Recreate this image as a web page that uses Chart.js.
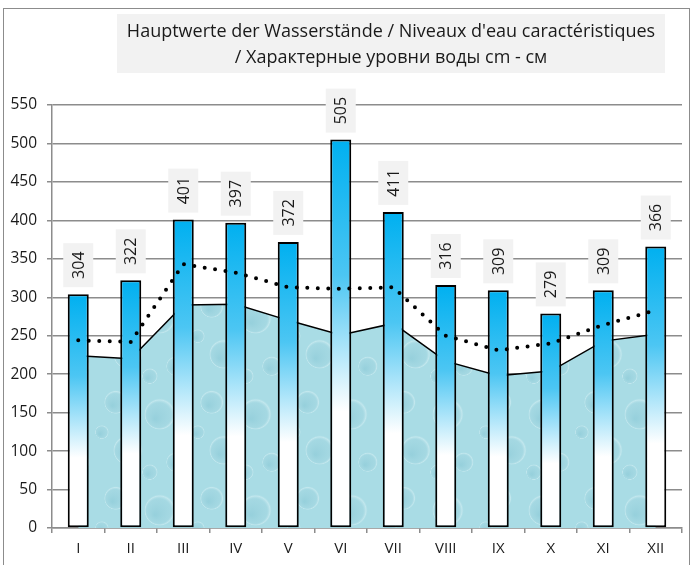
<!DOCTYPE html>
<html>
<head>
<meta charset="utf-8">
<script src="https://cdn.jsdelivr.net/npm/chart.js@4.4.1/dist/chart.umd.min.js"></script>
<style>
  html, body { margin: 0; padding: 0; background: #fff; }
  #wrap { width: 693px; height: 565px; position: relative; }
</style>
</head>
<body>
<div id="wrap"><canvas id="grafico" width="693" height="565"></canvas></div>
<script>
// meses
var meses = ["I", "II", "III", "IV", "V", "VI", "VII", "VIII", "IX", "X", "XI", "XII"];
// maximos (barras)
var maximos = [304, 322, 401, 397, 372, 505, 411, 316, 309, 279, 309, 366];
// medios (linea de puntos)
var medios = [244, 242, 343, 332, 313, 311, 313, 250, 231, 240, 264, 283];
// minimos (area)
var minimos = [224, 220, 290, 291, 270, 251, 266, 217, 198, 204, 243, 252];
var tituloLineas = ["Hauptwerte der Wasserstände / Niveaux d'eau caractéristiques",
                    "/ Характерные уровни воды cm - см"];

var fuente = "'Open Sans', 'DejaVu Sans', sans-serif";

// textura de agua para el area (sin costuras)
function texturaAgua() {
    var n = 96;
    var c = document.createElement("canvas");
    c.width = n; c.height = n;
    var g = c.getContext("2d");
    g.fillStyle = "#a9dce5";
    g.fillRect(0, 0, n, n);
    var gotas = [[20, 18, 12], [64, 30, 16], [32, 66, 15], [80, 78, 10], [6, 48, 7], [54, 88, 8]];
    gotas.forEach(function (d) {
        [-n, 0, n].forEach(function (dx) {
            [-n, 0, n].forEach(function (dy) {
                var x = d[0] + dx, y = d[1] + dy, r = d[2];
                var rg = g.createRadialGradient(x - r * 0.3, y + r * 0.3, 1, x, y, r);
                rg.addColorStop(0, "rgba(130,195,210,0.45)");
                rg.addColorStop(0.75, "rgba(150,205,218,0.25)");
                rg.addColorStop(0.9, "rgba(225,245,248,0.45)");
                rg.addColorStop(1, "rgba(169,220,229,0)");
                g.fillStyle = rg;
                g.beginPath();
                g.ellipse(x, y, r, r * 1.15, 0, 0, Math.PI * 2);
                g.fill();
            });
        });
    });
    return document.createElement("canvas").getContext("2d").createPattern(c, "repeat");
}

function degradadoBarra(ctx) {
    var chart = ctx.chart;
    if (!chart.chartArea || ctx.parsed === undefined) return "#00b0f0";
    var y = chart.scales.y;
    var arriba = y.getPixelForValue(ctx.parsed.y);
    var abajo = y.getPixelForValue(0);
    var grad = chart.ctx.createLinearGradient(0, arriba, 0, abajo);
    grad.addColorStop(0, "#00b0f0");
    grad.addColorStop(0.35, "#4cc6f3");
    grad.addColorStop(0.7, "#ffffff");
    grad.addColorStop(1, "#ffffff");
    return grad;
}

var marcoYTitulo = {
    id: "marcoYTitulo",
    beforeDraw: function (chart) {
        var c = chart.ctx;
        c.save();
        c.fillStyle = "#ffffff";
        c.fillRect(0, 0, chart.width, chart.height);
        c.strokeStyle = "#8c8c8c";
        c.lineWidth = 1;
        c.strokeRect(3.5, 8.5, 686, 600);
        c.fillStyle = "#f2f2f2";
        c.fillRect(117, 14, 548, 59);
        c.fillStyle = "#1a1a1a";
        c.font = "18px " + fuente;
        c.textAlign = "center";
        c.textBaseline = "middle";
        c.fillText(tituloLineas[0], 391, 32);
        c.fillText(tituloLineas[1], 391, 58);
        c.restore();
    }
};

var etiquetas = {
    id: "etiquetas",
    afterDatasetsDraw: function (chart) {
        var meta = chart.getDatasetMeta(1);
        var c = chart.ctx;
        c.save();
        meta.data.forEach(function (el, i) {
            var w = 30, h = 44;
            var x0 = el.x - w / 2;
            var y1 = el.y - 7;
            c.fillStyle = "#f2f2f2";
            c.fillRect(x0, y1 - h, w, h);
            c.save();
            c.translate(el.x, y1 - h / 2);
            c.rotate(-Math.PI / 2);
            c.fillStyle = "#1a1a1a";
            c.font = "16px " + fuente;
            c.textAlign = "center";
            c.textBaseline = "middle";
            c.fillText(String(maximos[i]), 0, 1);
            c.restore();
        });
        c.restore();
    }
};

var ctx = document.getElementById("grafico").getContext("2d");
new Chart(ctx, {
    data: {
        labels: meses,
        datasets: [{
            type: "line",
            label: "medio",
            data: medios,
            borderColor: "#000",
            borderWidth: 4,
            borderDash: [0, 10.5],
            borderCapStyle: "round",
            pointRadius: 0,
            tension: 0,
            fill: false,
            order: 1
        }, {
            type: "bar",
            label: "max",
            data: maximos,
            backgroundColor: degradadoBarra,
            borderColor: "#000",
            borderWidth: 2,
            borderSkipped: false,
            barPercentage: 0.4,
            categoryPercentage: 1,
            order: 2
        }, {
            type: "line",
            label: "min",
            data: minimos,
            borderColor: "#000",
            borderWidth: 1.5,
            backgroundColor: texturaAgua(),
            pointRadius: 0,
            tension: 0,
            fill: "origin",
            order: 3
        }]
    },
    options: {
        responsive: false,
        animation: false,
        layout: { padding: { left: 4, right: 11, top: 105, bottom: 5 } },
        plugins: {
            legend: { display: false },
            title: { display: false },
            tooltip: { enabled: false }
        },
        scales: {
            x: {
                offset: true,
                grid: { offset: true, drawOnChartArea: false, drawTicks: true, tickLength: 5, color: "#8c8c8c", lineWidth: 1.5 },
                border: { color: "#8c8c8c", width: 1.5 },
                ticks: { color: "#1a1a1a", font: { family: fuente, size: 15 }, padding: 7 },
                afterFit: function (s) { s.height = 32; }
            },
            y: {
                min: 0,
                max: 550,
                ticks: { stepSize: 50, color: "#1a1a1a", font: { family: fuente, size: 15.5 }, padding: 10 },
                grid: { color: "#8c8c8c", lineWidth: 1.5, tickLength: 5 },
                border: { color: "#8c8c8c", width: 1.5 },
                afterFit: function (s) { s.width = 48; }
            }
        }
    },
    plugins: [marcoYTitulo, etiquetas]
});
</script>
</body>
</html>
